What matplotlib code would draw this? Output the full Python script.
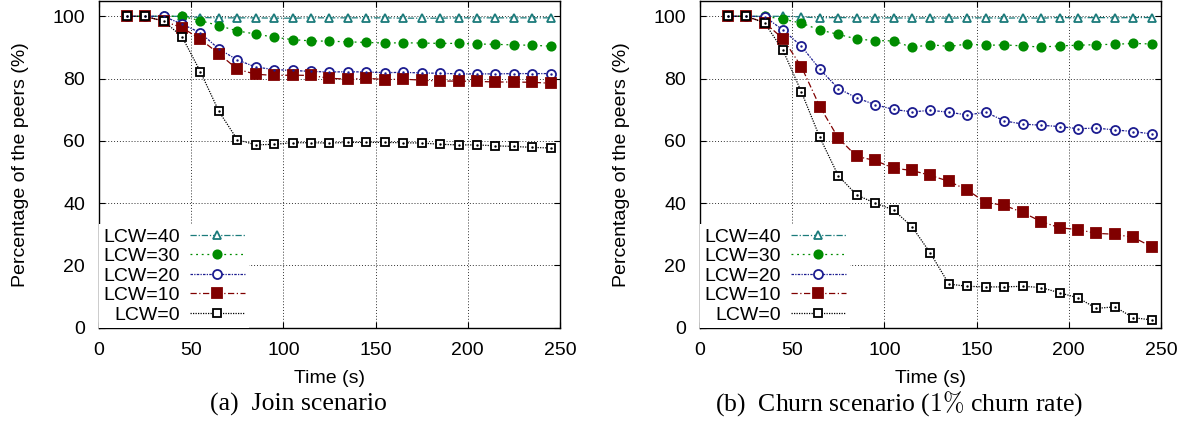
import matplotlib
matplotlib.use("Agg")
import matplotlib.pyplot as plt
import numpy as np

# sampling instants (s)
time_s = [15, 25, 35, 45, 55, 65, 75, 85, 95, 105, 115, 125,
          135, 145, 155, 165, 175, 185, 195, 205, 215, 225, 235, 245]

series_labels = ["LCW=40", "LCW=30", "LCW=20", "LCW=10", "LCW=0"]

# (a) join scenario
join_lcw40 = [100, 100, 100, 100, 99.6, 99.5, 99.5, 99.5, 99.4, 99.4, 99.5, 99.5,
              99.5, 99.5, 99.5, 99.4, 99.4, 99.4, 99.5, 99.5, 99.5, 99.5, 99.5, 99.5]
join_lcw30 = [100, 100, 100, 100, 98.6, 97.0, 95.3, 94.3, 93.3, 92.5, 92.1, 92.0,
              91.8, 91.6, 91.4, 91.5, 91.4, 91.3, 91.3, 91.1, 91.0, 90.8, 90.7, 90.4]
join_lcw20 = [100, 100, 100, 97.5, 94.7, 89.5, 86.0, 83.7, 82.9, 82.6, 82.3, 82.1,
              82.2, 82.1, 81.9, 82.0, 81.8, 81.7, 81.5, 81.5, 81.5, 81.6, 81.6, 81.6]
join_lcw10 = [100, 100, 98.4, 96.4, 92.6, 88.0, 83.0, 81.4, 81.0, 81.1, 81.0, 80.1,
              79.8, 80.1, 79.7, 79.8, 79.5, 79.2, 79.2, 79.1, 78.9, 78.9, 78.8, 78.5]
join_lcw0 = [100, 100, 98.5, 93.5, 82.2, 69.5, 60.4, 58.7, 58.9, 59.4, 59.4, 59.3,
             59.5, 59.5, 59.5, 59.4, 59.3, 58.9, 58.7, 58.7, 58.4, 58.2, 57.9, 57.7]

# (b) churn scenario, 1% churn rate
churn_lcw40 = [100, 100, 100, 100, 99.8, 99.5, 99.6, 99.5, 99.5, 99.5, 99.4, 99.5,
               99.4, 99.5, 99.5, 99.4, 99.5, 99.4, 99.6, 99.5, 99.6, 99.5, 99.6, 99.6]
churn_lcw30 = [100, 100, 100, 99.1, 97.8, 95.6, 94.2, 92.7, 92.2, 92.1, 90.0, 90.9,
               90.3, 91.1, 90.7, 90.8, 90.5, 90.1, 90.5, 90.7, 90.9, 91.0, 91.3, 91.1]
churn_lcw20 = [100, 100, 99.9, 95.6, 90.4, 83.0, 76.8, 73.8, 71.6, 70.1, 69.3, 69.8,
               69.2, 68.3, 69.2, 66.4, 65.4, 65.0, 64.6, 63.9, 64.1, 63.5, 63.0, 62.2]
churn_lcw10 = [100, 100, 98.0, 92.8, 83.8, 71.0, 60.9, 55.0, 53.7, 51.2, 50.5, 48.9,
               47.0, 44.2, 40.2, 39.3, 37.0, 34.1, 32.1, 31.5, 30.3, 30.0, 29.0, 26.0]
churn_lcw0 = [100, 100, 97.9, 89.1, 75.7, 61.1, 48.8, 42.6, 40.0, 37.8, 32.4, 23.9,
              14.0, 13.3, 13.1, 13.1, 13.3, 12.9, 11.2, 9.6, 6.2, 6.7, 3.2, 2.5]

# gnuplot-like styles: color, marker, filled, dash pattern, marker size, center dot
styles = [
    ("#1b7b7b", "^", False, (5, 1.5, 1, 1.5), 6.0, False),
    ("#008c00", "o", True, (1.5, 3), 6.0, False),
    ("#1c1c90", "o", False, (2, 1, 1, 1), 6.5, True),
    ("#800000", "s", True, (5, 2, 1, 2), 6.5, False),
    ("#000000", "s", False, (1, 1), 6.0, True),
]

plt.rcParams["font.family"] = ["Liberation Sans", "DejaVu Sans"]
plt.rcParams["mathtext.fontset"] = "cm"

fig = plt.figure(figsize=(11.97, 4.23), dpi=100)
ax_join = fig.add_axes([0.0827, 0.2253, 0.3851, 0.7730])
ax_churn = fig.add_axes([0.5848, 0.2253, 0.3851, 0.7730])

panels = [
    (ax_join, [join_lcw40, join_lcw30, join_lcw20, join_lcw10, join_lcw0]),
    (ax_churn, [churn_lcw40, churn_lcw30, churn_lcw20, churn_lcw10, churn_lcw0]),
]

for ax, data in panels:
    handles = []
    for values, label, (color, marker, filled, dashes, ms, dot) in zip(data, series_labels, styles):
        line, = ax.plot(time_s, values, color=color, lw=0.9, dashes=dashes,
                        marker=marker, markersize=ms, markeredgewidth=1.3,
                        markerfacecolor=color if filled else "white",
                        markeredgecolor=color, label=label, zorder=3)
        if dot:
            ax.plot(time_s, values, linestyle="none", marker=".", markersize=1.5,
                    color=color, zorder=4)
        handles.append(line)

    ax.set_xlim(0, 250)
    ax.set_ylim(0, 105)
    ax.set_xticks([0, 50, 100, 150, 200, 250])
    ax.set_yticks([0, 20, 40, 60, 80, 100])
    ax.grid(True, color="#333333", linewidth=0.7, linestyle=(0, (1, 2)))
    ax.set_axisbelow(True)
    ax.tick_params(direction="in", length=4, width=0.8, labelsize=14, pad=10,
                   top=True, right=True)
    for sp in ax.spines.values():
        sp.set_linewidth(1.0)
    ax.set_xlabel("Time (s)", fontsize=14, labelpad=8)
    ax.set_ylabel("Percentage of the peers (%)", fontsize=14, labelpad=17)

    leg = ax.legend(handles=handles, loc="lower left", bbox_to_anchor=(0.0, 0.0),
                    markerfirst=False, fontsize=14, frameon=True, fancybox=False,
                    borderaxespad=0.0, borderpad=0.2, labelspacing=0.1,
                    handlelength=2.8, handletextpad=0.55)
    leg.get_frame().set_facecolor("white")
    leg.get_frame().set_edgecolor("none")
    leg.get_frame().set_alpha(1.0)
    leg.set_zorder(5)

fig.text(0.249, 0.045, "(a)  Join scenario", fontsize=18.5,
         family=["Liberation Serif", "DejaVu Serif"], ha="center", va="center")
fig.text(0.751, 0.045, r"(b)  Churn scenario ($1\%$ churn rate)", fontsize=18.5,
         family=["Liberation Serif", "DejaVu Serif"], ha="center", va="center")

fig.savefig("out.png", dpi=100)
